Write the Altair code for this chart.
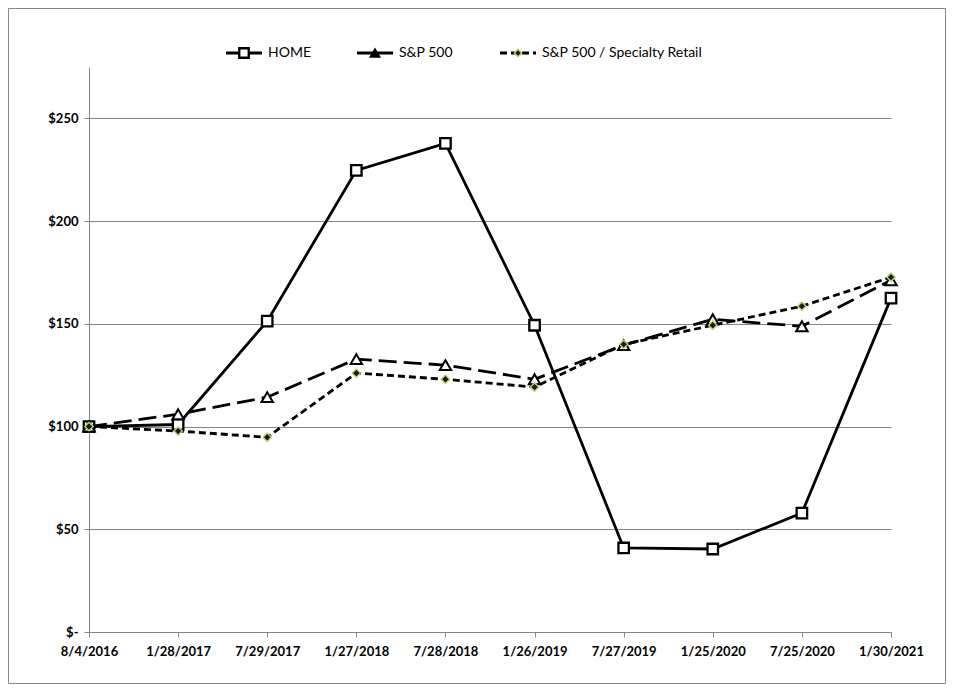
import altair as alt
import pandas as pd

dates = ["8/4/2016", "1/28/2017", "7/29/2017", "1/27/2018", "7/28/2018",
         "1/26/2019", "7/27/2019", "1/25/2020", "7/25/2020", "1/30/2021"]
home = [100, 101, 151.3, 224.7, 237.8, 149.3, 40.9, 40.4, 57.9, 162.5]
sp500 = [100, 106, 114.3, 132.8, 129.9, 123, 139.6, 152.2, 148.8, 171.2]
spec = [100, 97.8, 94.8, 126, 123, 119.2, 140, 149.3, 158.6, 172.7]
series_names = ["HOME", "S&P 500", "S&P 500 / Specialty Retail"]
y_ticks = [0, 50, 100, 150, 200, 250]

df = pd.DataFrame({"date": dates, "home": home, "sp": sp500, "spec": spec})
long = df.melt(id_vars="date", var_name="s", value_name="v")

W, H = 802, 565
PAD = {"left": 81, "top": 59, "right": 55, "bottom": 52}
FONT = "Lato"

x_enc = alt.X("date:N", sort=dates, scale=alt.Scale(type="point", padding=0),
              axis=alt.Axis(title=None, labelAngle=0, labelFont=FONT, labelFontWeight="bold",
                            labelFontSize=13, labelColor="#000", labelPadding=8,
                            domainColor="#868686", tickColor="#868686", tickSize=5,
                            grid=False))
y_scale = alt.Scale(domain=[0, 275], nice=False, zero=True)
y_axis = alt.Axis(title=None, values=y_ticks, labelFont=FONT, labelFontWeight="bold",
                  labelFontSize=13, labelColor="#000", labelPadding=6,
                  labelExpr="datum.value == 0 ? '$-\u00a0\u00a0\u00a0\u00a0' : '$' + datum.value",
                  domainColor="#868686", tickColor="#868686", tickSize=5,
                  grid=True, gridColor="#868686", gridWidth=1)

def series_layers(key, dash, shape, size, fill, stroke, sw):
    b = alt.Chart(long).transform_filter(alt.datum.s == key)
    y = alt.Y("v:Q", scale=y_scale, axis=y_axis)
    line_kwargs = dict(color="black", strokeWidth=2.8)
    if dash:
        line_kwargs["strokeDash"] = dash
    line = b.mark_line(**line_kwargs).encode(x=x_enc, y=y)
    pts = b.mark_point(shape=shape, size=size, filled=True, fill=fill, stroke=stroke,
                       strokeWidth=sw, opacity=1).encode(x=x_enc, y=y)
    return [line, pts]

layers = []
layers += series_layers("home", None, "square", 110, "white", "black", 2.3)
layers += series_layers("sp", [18, 7], "triangle-up", 130, "white", "black", 2.0)
layers += series_layers("spec", [7, 4], "diamond", 70, "#1a1a1a", "#b5d56a", 1.4)

# legend
leg_y = -14
def legend_item(name, x0, dash, shape, size, fill, stroke, sw):
    out = []
    ldf = pd.DataFrame({"name": [name]})
    kw = dict(color="black", strokeWidth=2.8)
    if dash:
        kw["strokeDash"] = dash
    out.append(alt.Chart(ldf).mark_rule(**kw).encode(
        x=alt.value(x0), x2=alt.value(x0 + 36), y=alt.value(leg_y)))
    out.append(alt.Chart(ldf).mark_point(shape=shape, size=size, filled=True, fill=fill,
                                         stroke=stroke, strokeWidth=sw, opacity=1).encode(
        x=alt.value(x0 + 18), y=alt.value(leg_y)))
    out.append(alt.Chart(ldf).mark_text(align="left", baseline="middle", font=FONT,
                                        fontSize=14, color="black").encode(
        x=alt.value(x0 + 42), y=alt.value(leg_y), text="name:N"))
    return out

layers += legend_item(series_names[0], 137, None, "square", 90, "white", "black", 2.3)
layers += legend_item(series_names[1], 268, None, "triangle-up", 90, "black", "black", 1.5)
layers += legend_item(series_names[2], 411, [7, 4], "diamond", 55, "#1a1a1a", "#b5d56a", 1.4)

# outer border
border = alt.Chart(pd.DataFrame({"b": [0]})).mark_rect(
    fill=None, stroke="#868686", strokeWidth=1).encode(
    x=alt.value(-PAD["left"] + 0.5), x2=alt.value(W + PAD["right"] - 0.5),
    y=alt.value(-PAD["top"] + 0.5), y2=alt.value(H + PAD["bottom"] - 0.5))
layers.append(border)

chart = alt.layer(*layers).properties(
    width=W, height=H,
    autosize=alt.AutoSizeParams(type="none"),
    padding=PAD,
    background="white",
).configure_view(stroke=None)

chart.save("out.html", embed_options={"renderer": "svg", "actions": False})
